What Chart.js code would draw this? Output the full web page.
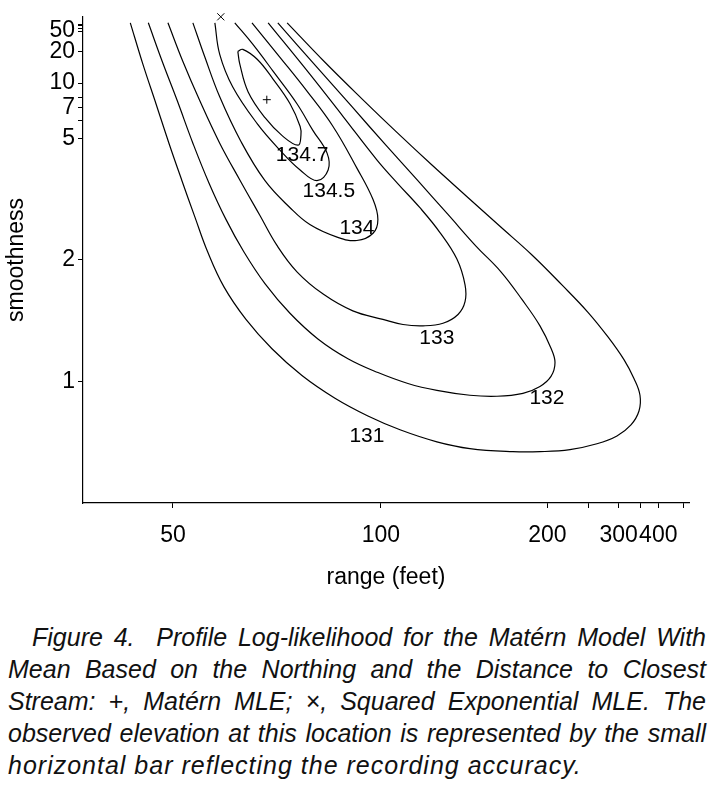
<!DOCTYPE html>
<html>
<head>
<meta charset="utf-8">
<title>Profile Log-likelihood, Matérn model</title>
<script src="https://cdn.jsdelivr.net/npm/chart.js@4.4.1/dist/chart.umd.min.js"></script>
<style>
  body { margin: 0; background: #fff; }
  #wrap { width: 720px; height: 603px; }
  .caption {
    font: italic 25px "Liberation Sans", Arial, sans-serif;
    line-height: 32px;
    color: #111;
    margin: 18px 0 0 8px;
    width: 698px;
  }
  .caption div { text-align: justify; text-align-last: justify; }
  .caption .first { padding-left: 24px; }
  .caption .last { text-align-last: left; letter-spacing: 1px; }
</style>
</head>
<body>
<div id="wrap"><canvas id="myChart" width="720" height="603"></canvas></div>
<div class="caption">
  <div class="first">Figure 4.&nbsp; Profile Log-likelihood for the Matérn Model With</div>
  <div>Mean Based on the Northing and the Distance to Closest</div>
  <div>Stream: +, Matérn MLE; ×, Squared Exponential MLE. The</div>
  <div>observed elevation at this location is represented by the small</div>
  <div class="last">horizontal bar reflecting the recording accuracy.</div>
</div>
<script>
// contour levels of the profile log-likelihood
var levels = ['131', '132', '133', '134', '134.5', '134.7'];

// each contour: range (feet) and smoothness
var range131 = [43.6, 45.4, 47.35, 49.36, 51.46, 53.65, 55.9, 58.9, 63.25, 68.86, 76.06, 85.07, 95.45, 107.2, 123.3, 140.8, 169.7, 192.8, 224.9, 262.0, 296.7, 325.9, 345.0, 347.5, 332.8, 310.7, 280.2, 248.6, 215.5, 185.5, 160.1, 138.5, 120.96, 106.4, 93.45, 82.2, 72.4];
var smooth131 = [120, 14.4, 7.39, 4.77, 3.45, 2.64, 2.10, 1.70, 1.41, 1.197, 1.033, 0.912, 0.827, 0.766, 0.716, 0.689, 0.677, 0.677, 0.685, 0.708, 0.740, 0.787, 0.850, 0.927, 1.016, 1.127, 1.278, 1.468, 1.72, 2.062, 2.481, 3.077, 3.92, 5.254, 7.891, 15.04, 120];

var range132 = [46.2, 48.3, 50.7, 53.3, 56.12, 59.28, 62.84, 67.29, 73.08, 80.26, 88.97, 98.92, 110.4, 123.3, 140.8, 158.0, 177.7, 192.8, 203.7, 207.9, 203.7, 192.8, 176.9, 160.8, 144.4, 128.8, 114.6, 101.8, 90.23, 79.73, 70.2];
var smooth132 = [120, 15.4, 7.68, 4.77, 3.39, 2.60, 2.10, 1.733, 1.46, 1.264, 1.133, 1.05, 0.989, 0.952, 0.927, 0.922, 0.937, 0.973, 1.028, 1.11, 1.20, 1.36, 1.58, 1.86, 2.181, 2.69, 3.45, 4.68, 7.11, 13.76, 120];

var range133 = [49.2, 51.6, 54.5, 58.1, 62.0, 66.2, 70.0, 74.8, 81.7, 90.5, 100.7, 108.4, 116.9, 126.3, 134.1, 138.0, 138.0, 133.5, 124.8, 115.5, 106.4, 98.6, 87.5, 78.1, 68.0];
var smooth133 = [120, 15.4, 7.68, 4.77, 3.47, 2.67, 2.19, 1.86, 1.63, 1.48, 1.41, 1.37, 1.36, 1.38, 1.45, 1.56, 1.72, 2.01, 2.38, 2.82, 3.367, 4.09, 6.31, 11.72, 120];

var range134 = [53.3, 55.4, 58.1, 62.2, 67.3, 73.1, 78.1, 85.7, 91.8, 97.2, 98.9, 97.2, 91.8, 84.5, 77.3, 70.7, 64.5];
var smooth134 = [120, 17.0, 8.11, 4.86, 3.45, 2.82, 2.51, 2.31, 2.26, 2.37, 2.60, 2.99, 3.82, 5.65, 8.84, 17.0, 120];

var range1345 = [57.2, 58.1, 60.6, 65.6, 70.7, 75.6, 80.0, 83.1, 82.8, 78.9, 74.8, 69.1, 64.7, 61.0];
var smooth1345 = [120, 18.4, 9.39, 5.83, 4.47, 3.76, 3.45, 3.76, 4.35, 5.42, 7.39, 12.42, 25.4, 120];

// closed ellipse round the MLE
var range1347 = [61.6, 62.0, 63.7, 67.3, 71.4, 75.1, 75.8, 75.6, 73.1, 69.1, 65.6, 62.6, 61.6];
var smooth1347 = [20.1, 14.4, 8.71, 6.23, 5.10, 4.68, 5.15, 5.65, 7.39, 10.71, 16.16, 21.4, 20.1];

// where the level numbers sit
var labelRange = [95.1, 199.6, 123.3, 91.8, 83.3, 76.1];
var labelSmooth = [0.737, 0.912, 1.27, 2.45, 3.17, 4.27];

// + Matern MLE, x squared exponential MLE (smoothness infinite)
var maternMLE = [67.7, 7.8];
var sqExpMLE = [58.3, Infinity];

var xTicks = [50, 100, 200, 250, 300, 350, 400, 500];
var xTickLabels = ['50', '100', '200', '', '300', '', '400', ''];
var yTicks = [1, 2, 5, 6, 7, 8, 10, 20, 50, 60, 80, 100];
var yTickLabels = ['1', '2', '5', '', '7', '', '10', '20', '50', '', '', ''];

var rangeLimits = [37.4, 528];
var smoothLimits = [0.5, Infinity];

// axes are drawn on r/(r+50) and nu/(1+nu)
function rangeAxis(r) { return r / (r + 50); }
function smoothAxis(n) { return n === Infinity ? 1 : n / (n + 1); }

function toPoints(rs, ns) {
  return rs.map(function (r, i) { return { x: rangeAxis(r), y: smoothAxis(ns[i]) }; });
}

var fam = '"Liberation Sans", Arial, Helvetica, sans-serif';
Chart.defaults.font.family = fam;
Chart.defaults.color = '#000';

var contours = [
  [range131, smooth131], [range132, smooth132], [range133, smooth133],
  [range134, smooth134], [range1345, smooth1345], [range1347, smooth1347]
];

var datasets = contours.map(function (c, i) {
  return {
    label: levels[i],
    data: toPoints(c[0], c[1]),
    showLine: true,
    borderColor: '#000',
    borderWidth: 1.2,
    pointRadius: 0,
    tension: 0.4,
    fill: false
  };
});

datasets.push({
  label: 'Matern MLE',
  data: toPoints([maternMLE[0]], [maternMLE[1]]),
  pointStyle: 'cross',
  pointRadius: 4,
  borderColor: '#000',
  borderWidth: 1,
  clip: false
});
datasets.push({
  label: 'Squared Exponential MLE',
  data: toPoints([sqExpMLE[0]], [sqExpMLE[1]]),
  pointStyle: 'crossRot',
  pointRadius: 5,
  borderColor: '#000',
  borderWidth: 1,
  clip: false
});

var contourLabels = {
  id: 'contourLabels',
  afterDatasetsDraw: function (chart) {
    var ctx = chart.ctx, x = chart.scales.x, y = chart.scales.y;
    ctx.save();
    ctx.font = '21px ' + fam;
    ctx.fillStyle = '#000';
    ctx.textAlign = 'center';
    ctx.textBaseline = 'middle';
    levels.forEach(function (lv, i) {
      ctx.fillText(lv, x.getPixelForValue(rangeAxis(labelRange[i])),
        y.getPixelForValue(smoothAxis(labelSmooth[i])));
    });
    ctx.restore();
  }
};

new Chart("myChart", {
  type: "scatter",
  data: { datasets: datasets },
  plugins: [contourLabels],
  options: {
    responsive: false,
    animation: false,
    events: [],
    layout: { padding: { top: 11, right: 31, left: 0, bottom: 0 } },
    plugins: { legend: { display: false }, tooltip: { enabled: false } },
    scales: {
      x: {
        type: 'linear',
        bounds: 'data',
        min: rangeAxis(rangeLimits[0]),
        max: rangeAxis(rangeLimits[1]),
        afterBuildTicks: function (s) {
          s.ticks = xTicks.map(function (v) { return { value: rangeAxis(v) }; });
        },
        afterFit: function (s) { s.height = 100; },
        grid: { display: true, drawOnChartArea: false, drawTicks: true, tickLength: 5, color: '#000', lineWidth: 1 },
        border: { display: true, color: '#000', width: 1.2 },
        ticks: {
          autoSkip: false, maxRotation: 0, padding: 14,
          font: { size: 23 },
          callback: function (v, i) { return xTickLabels[i]; }
        },
        title: { display: true, text: 'range (feet)', font: { size: 23 }, padding: { top: 0, bottom: 12 } }
      },
      y: {
        type: 'linear',
        bounds: 'data',
        min: smoothAxis(smoothLimits[0]),
        max: smoothAxis(smoothLimits[1]),
        afterBuildTicks: function (s) {
          s.ticks = yTicks.map(function (v) { return { value: smoothAxis(v) }; });
        },
        afterFit: function (s) { s.width = 83; },
        grid: { display: true, drawOnChartArea: false, drawTicks: true, tickLength: 5, color: '#000', lineWidth: 1 },
        border: { display: true, color: '#000', width: 1.2 },
        ticks: {
          autoSkip: false, padding: 3,
          font: { size: 23 },
          callback: function (v, i) { return yTickLabels[i]; }
        },
        title: { display: true, text: 'smoothness', font: { size: 23 }, padding: { top: 3, bottom: 0 } }
      }
    }
  }
});
</script>
</body>
</html>
